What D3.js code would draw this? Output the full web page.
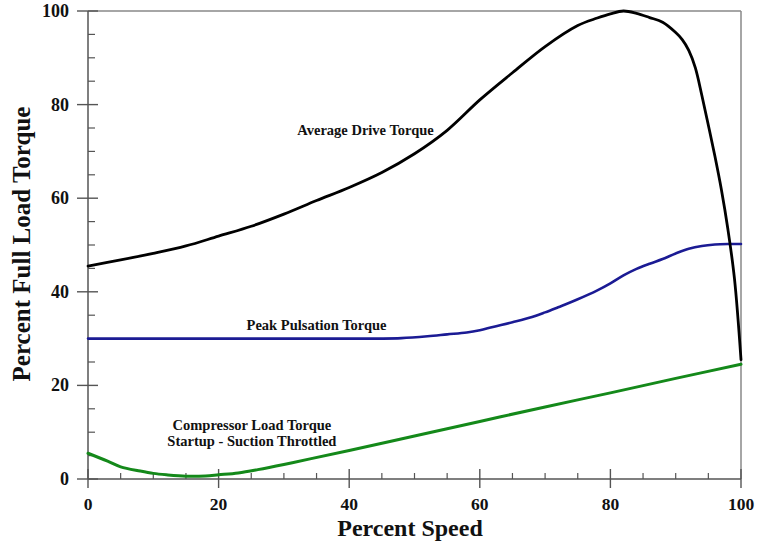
<!DOCTYPE html>
<html>
<head>
<meta charset="utf-8">
<script src="https://cdn.jsdelivr.net/npm/d3@7"></script>
<style>
  html, body { margin: 0; padding: 0; background: #fff; }
  svg { display: block; }
  text { font-family: "Liberation Serif", "Times New Roman", serif; font-weight: bold; fill: #111; }
</style>
</head>
<body>
<svg id="chart" width="758" height="543"></svg>
<script>
// ---- Data (percent speed vs percent full load torque) ----
const driveSpeed  = [0, 5, 10, 15, 20, 25, 30, 35, 40, 45, 50, 55, 60, 65, 70, 75, 78, 80, 82, 84, 86, 88, 90, 91, 92, 93, 94, 95, 96, 97, 98, 99, 100];
const driveTorque = [45.5, 46.8, 48.2, 49.8, 51.9, 54.0, 56.6, 59.5, 62.3, 65.5, 69.5, 74.5, 81.0, 86.8, 92.4, 96.9, 98.5, 99.4, 100, 99.5, 98.6, 97.6, 95.4, 93.9, 91.6, 87.9, 82.0, 75.6, 69.0, 61.8, 53.3, 42.8, 25.5];

const pulseSpeed  = [0, 10, 20, 30, 40, 45, 48, 52, 55, 58, 60, 62, 65, 68, 70, 72, 75, 78, 80, 82, 84, 86, 88, 90, 92, 94, 96, 98, 100];
const pulseTorque = [30, 30, 30, 30, 30, 30, 30.1, 30.5, 30.9, 31.3, 31.8, 32.5, 33.5, 34.6, 35.6, 36.7, 38.4, 40.3, 41.8, 43.5, 44.9, 46.0, 47.0, 48.2, 49.2, 49.8, 50.1, 50.2, 50.2];

const loadSpeed  = [0, 3, 5, 8, 10, 12, 15, 18, 20, 23, 26, 30, 34, 40, 50, 60, 70, 80, 90, 100];
const loadTorque = [5.5, 3.8, 2.6, 1.7, 1.2, 0.9, 0.6, 0.65, 0.9, 1.3, 2.0, 3.1, 4.3, 6.1, 9.2, 12.3, 15.4, 18.4, 21.5, 24.5];

const xTicks = [0, 20, 40, 60, 80, 100];
const yTicks = [0, 20, 40, 60, 80, 100];
const minorStep = 5;

const labels = [
  { text: "Average Drive Torque", x: 42.5, y: 73.6 },
  { text: "Peak Pulsation Torque", x: 35, y: 31.8 },
  { text: "Compressor Load Torque", x: 25.1, y: 10.4 },
  { text: "Startup - Suction Throttled", x: 25.1, y: 7.0 }
];

// ---- Layout ----
const svg = d3.select("#chart");
const mLeft = 88, mRight = 741, mTop = 11, mBottom = 479;
const x = d3.scaleLinear().domain([0, 100]).range([mLeft, mRight]);
const y = d3.scaleLinear().domain([0, 100]).range([mBottom, mTop]);

const axisColor = "#555";

// Frame top/right
svg.append("line").attr("x1", mLeft).attr("x2", mRight).attr("y1", mTop).attr("y2", mTop)
  .attr("stroke", "#888").attr("stroke-width", 1.5);
svg.append("line").attr("x1", mRight).attr("x2", mRight).attr("y1", mTop).attr("y2", mBottom)
  .attr("stroke", "#888").attr("stroke-width", 1.5);

// Minor ticks
const minor = d3.range(0, 100 + 0.001, minorStep).filter(v => !xTicks.includes(v));
svg.append("g").selectAll("line").data(minor).join("line")
  .attr("x1", d => x(d)).attr("x2", d => x(d)).attr("y1", mBottom).attr("y2", mBottom - 6)
  .attr("stroke", axisColor).attr("stroke-width", 1.2);
svg.append("g").selectAll("line").data(minor).join("line")
  .attr("y1", d => y(d)).attr("y2", d => y(d)).attr("x1", mLeft).attr("x2", mLeft + 7)
  .attr("stroke", axisColor).attr("stroke-width", 1.2);

// Major ticks (crossing)
svg.append("g").selectAll("line").data(xTicks).join("line")
  .attr("x1", d => x(d)).attr("x2", d => x(d)).attr("y1", mBottom - 10).attr("y2", mBottom + 9)
  .attr("stroke", axisColor).attr("stroke-width", 1.4);
svg.append("g").selectAll("line").data(yTicks).join("line")
  .attr("y1", d => y(d)).attr("y2", d => y(d)).attr("x1", mLeft - 11).attr("x2", mLeft + 10)
  .attr("stroke", axisColor).attr("stroke-width", 1.4);

// Axis lines
svg.append("line").attr("x1", mLeft).attr("x2", mRight).attr("y1", mBottom).attr("y2", mBottom)
  .attr("stroke", axisColor).attr("stroke-width", 1.5);
svg.append("line").attr("x1", mLeft).attr("x2", mLeft).attr("y1", mTop).attr("y2", mBottom)
  .attr("stroke", axisColor).attr("stroke-width", 1.5);

// Tick labels
svg.append("g").selectAll("text").data(xTicks).join("text")
  .attr("x", d => x(d)).attr("y", 510).attr("text-anchor", "middle")
  .style("font-size", "17.5px").text(d => d);
svg.append("g").selectAll("text").data(yTicks).join("text")
  .attr("x", 69).attr("y", d => y(d) + 6).attr("text-anchor", "end")
  .style("font-size", "18px").text(d => d);

// Axis titles
svg.append("text").attr("x", 410).attr("y", 536).attr("text-anchor", "middle")
  .style("font-size", "24px").text("Percent Speed");
svg.append("text").attr("transform", "translate(30,244) rotate(-90)").attr("text-anchor", "middle")
  .style("font-size", "25px").text("Percent Full Load Torque");

// Curves
const line = d3.line().x(d => x(d[0])).y(d => y(d[1])).curve(d3.curveCatmullRom.alpha(0.5));
const series = [
  { xs: loadSpeed, ys: loadTorque, color: "#14891a", width: 3 },
  { xs: pulseSpeed, ys: pulseTorque, color: "#1b1b94", width: 2.6 },
  { xs: driveSpeed, ys: driveTorque, color: "#000", width: 2.8 }
];
series.forEach(s => {
  svg.append("path").datum(s.xs.map((v, i) => [v, s.ys[i]]))
    .attr("d", line).attr("fill", "none").attr("stroke", s.color)
    .attr("stroke-width", s.width).attr("stroke-linejoin", "round").attr("stroke-linecap", "round");
});

// Annotations
svg.append("g").selectAll("text").data(labels).join("text")
  .attr("x", d => x(d.x)).attr("y", d => y(d.y)).attr("text-anchor", "middle")
  .style("font-size", "14.5px").text(d => d.text);
</script>
</body>
</html>
